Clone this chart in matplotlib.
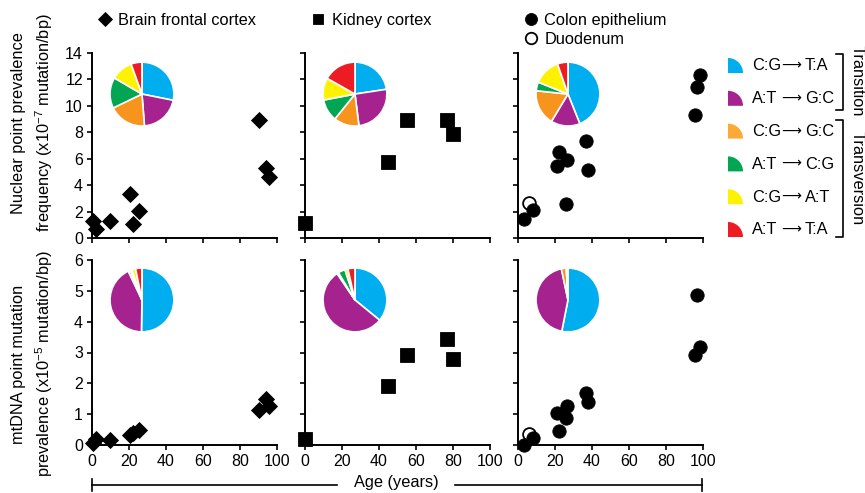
import numpy as np
import matplotlib
matplotlib.use('Agg')
import matplotlib.pyplot as plt
from matplotlib.patches import Wedge

plt.rcParams['font.family'] = ['Liberation Sans', 'DejaVu Sans']
plt.rcParams['mathtext.fontset'] = 'custom'
plt.rcParams['mathtext.rm'] = 'Liberation Sans'
plt.rcParams['mathtext.it'] = 'Liberation Sans:italic'

# ages (years)
brain_age = [0.5, 2, 9.5, 20.5, 22, 25.5, 90.5, 94, 95.5]
kidney_age = [0, 45, 55, 77, 80]
colon_age = [3, 8, 21, 22, 26, 26.5, 36.5, 38, 95.5, 96.5, 98.5]
duod_age = [6]

# nuclear point prevalence (x10^-7 mutation/bp)
brain_nuc = [1.25, 0.7, 1.25, 3.3, 1.05, 2.05, 8.95, 5.3, 4.65]
kidney_nuc = [1.1, 5.75, 8.95, 8.9, 7.9]
colon_nuc = [1.46, 2.14, 5.47, 6.48, 2.6, 5.93, 7.37, 5.17, 9.33, 11.4, 12.3]
duod_nuc = [2.65]

# mtDNA point mutation prevalence (x10^-5 mutation/bp)
brain_mt = [0.08, 0.18, 0.15, 0.33, 0.38, 0.48, 1.12, 1.48, 1.27]
kidney_mt = [0.2, 1.92, 2.93, 3.45, 2.79]
colon_mt = [0.0, 0.24, 1.03, 0.46, 0.87, 1.28, 1.68, 1.41, 2.93, 4.85, 3.19]
duod_mt = [0.35]

# mutation spectra (%), same order as the key
mut_from = ['C:G', 'A:T', 'C:G', 'A:T', 'C:G', 'A:T']
mut_to = ['T:A', 'G:C', 'G:C', 'C:G', 'A:T', 'T:A']
brain_nuc_pie = [28, 20.5, 19, 15.5, 11, 5.5]
kidney_nuc_pie = [22.6, 25.4, 12.8, 11.2, 11.2, 16.8]
colon_nuc_pie = [43.9, 14.7, 18, 4.4, 13.6, 5.3]
brain_mt_pie = [50, 42.5, 1.2, 0.8, 1.8, 3.2]
kidney_mt_pie = [35.3, 53.7, 0.8, 3.5, 1.5, 3.5]
colon_mt_pie = [53, 43.5, 2.5, 0, 0.8, 0]

pie_colors = ['#00AEEF', '#A6228E', '#F7941D', '#00A651', '#FFF200', '#ED1C24']
leg_colors = ['#00AEEF', '#A6228E', '#FBAA38', '#00A651', '#FFF200', '#ED1C24']

W, H = 865, 493
fig = plt.figure(figsize=(W / 100, H / 100), dpi=100)

lefts = [92, 305, 518]
aw = 185
tops = [53, 260]

def px_axes(left, top, w, h):
    return fig.add_axes([left / W, 1 - (top + h) / H, w / W, h / H])

fs = 11.8
tfs = 11.5
panels = [
    [(brain_age, brain_nuc, 'D', 8.4, 'Brain frontal cortex', brain_nuc_pie),
     (kidney_age, kidney_nuc, 's', 10, 'Kidney cortex', kidney_nuc_pie),
     (colon_age, colon_nuc, 'o', 9.6, 'Colon epithelium', colon_nuc_pie)],
    [(brain_age, brain_mt, 'D', 8.4, None, brain_mt_pie),
     (kidney_age, kidney_mt, 's', 10, None, kidney_mt_pie),
     (colon_age, colon_mt, 'o', 9.6, None, colon_mt_pie)],
]

for r in range(2):
    for c in range(3):
        ax = px_axes(lefts[c], tops[r], aw, 185)
        x, y, mk, ms, lab, pie = panels[r][c]
        ax.plot(x, y, linestyle='none', marker=mk, ms=ms, color='black',
                mew=0.6, clip_on=False, zorder=3, label=lab)
        if c == 2:
            dy = duod_nuc if r == 0 else duod_mt
            ax.plot(duod_age, dy, linestyle='none', marker='o', ms=9.2,
                    mfc='white', mec='black', mew=1.3, clip_on=False,
                    zorder=2, label='Duodenum')
        ax.set_xlim(0, 100)
        if r == 0:
            ax.set_ylim(0, 14)
            ax.set_yticks(range(0, 15, 2))
        else:
            ax.set_ylim(0, 6)
            ax.set_yticks(range(0, 7))
        ax.set_xticks(range(0, 101, 20))
        for s in ['top', 'right']:
            ax.spines[s].set_visible(False)
        for s in ['left', 'bottom']:
            ax.spines[s].set_linewidth(1.4)
        ax.tick_params(direction='out', length=3.5, width=1.2, labelsize=tfs,
                       pad=3)
        if r == 0:
            ax.tick_params(axis='x', labelbottom=False)
        if c > 0:
            ax.tick_params(axis='y', labelleft=False)

        # spectrum pie
        pax = ax.inset_axes([0.27 - 0.176, (0.778 if r == 0 else 0.784) - 0.176,
                             0.352, 0.352])
        pax.pie(pie, colors=pie_colors, startangle=90, counterclock=False,
                wedgeprops=dict(edgecolor='white', linewidth=1.2))
        pax.set_xlim(-1.02, 1.02)
        pax.set_ylim(-1.02, 1.02)
        pax.set_aspect('equal')
        pax.axis('off')

        if r == 0:
            kw = dict(loc='center left', frameon=False, fontsize=fs,
                      handlelength=0.8, handletextpad=0.4, borderpad=0,
                      borderaxespad=0)
            if c == 0:
                ax.legend(bbox_to_anchor=(0.035, 1.178), markerscale=0.8, **kw)
            elif c == 1:
                ax.legend(bbox_to_anchor=(0.037, 1.178), markerscale=0.75, **kw)
            else:
                ax.legend(bbox_to_anchor=(0.035, 1.124), labelspacing=0.25,
                          markerscale=0.9, **kw)

# y labels
fig.text(33 / W, 1 - 123 / H,
         'Nuclear point prevalence\nfrequency (x10$^{-7}$ mutation/bp)',
         rotation=90, ha='center', va='center', fontsize=fs,
         multialignment='center', linespacing=1.4)
fig.text(33 / W, 1 - 364 / H,
         'mtDNA point mutation\nprevalence (x10$^{-5}$ mutation/bp)',
         rotation=90, ha='center', va='center', fontsize=fs,
         multialignment='center', linespacing=1.4)

# overlay in pixel units for the key, brackets and shared age axis
ov = fig.add_axes([0, 0, 1, 1])
ov.set_xlim(0, W)
ov.set_ylim(H, 0)
ov.axis('off')

row0, dr = 73, 32.8
for i, col in enumerate(leg_colors):
    yb = row0 + i * dr
    ov.add_patch(Wedge((728, yb), 15, 270, 360, facecolor=col, edgecolor='none'))
    ov.text(752, yb - 7, mut_from[i], fontsize=fs, va='center', ha='left')
    ov.text(791.5, yb - 7.5, '\u27f6', fontsize=10, va='center', ha='center',
            family='DejaVu Sans')
    ov.text(805, yb - 7, mut_to[i], fontsize=fs, va='center', ha='left')

bk = dict(color='black', lw=1.2)
ov.plot([836, 843, 843, 836], [54, 54, 110, 110], **bk)
ov.plot([836, 843, 843, 836], [120, 120, 237, 237], **bk)
ov.text(857, 81, 'Transition', rotation=-90, ha='center', va='center', fontsize=fs)
ov.text(857, 178, 'Transversion', rotation=-90, ha='center', va='center', fontsize=fs)

ov.plot([92, 337], [485, 485], **bk)
ov.plot([455, 702], [485, 485], **bk)
ov.plot([92, 92], [479, 491], **bk)
ov.plot([702, 702], [479, 491], **bk)
ov.text(396, 483, 'Age (years)', ha='center', va='center', fontsize=fs)

fig.savefig('out.png', dpi=100)
